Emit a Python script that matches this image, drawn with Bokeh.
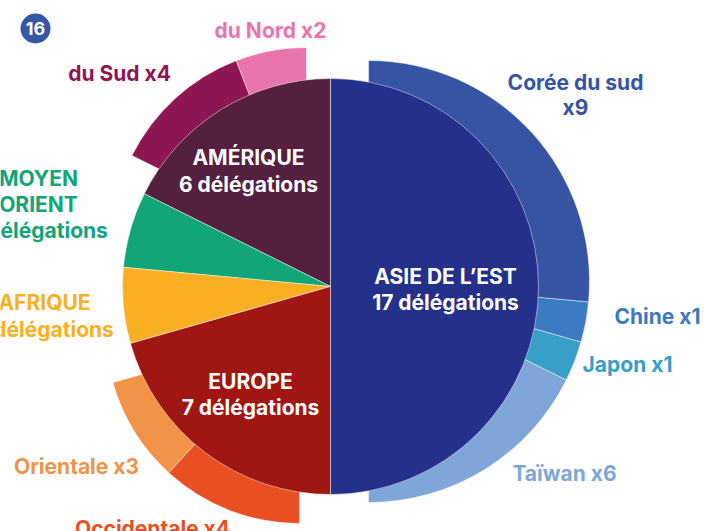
import math
from bokeh.plotting import figure
from bokeh.models import Range1d
from bokeh.core.properties import value
from bokeh.embed import file_html
from bokeh.resources import INLINE

# ---------------- data ----------------
regions = ["AMÉRIQUE", "MOYEN ORIENT", "AFRIQUE", "EUROPE", "ASIE DE L’EST"]
delegations = [6, 2, 2, 7, 17]
region_colors = ["#55203f", "#12a577", "#f8b022", "#a01612", "#24308a"]

america_sub = ["du Nord", "du Sud"]
america_counts = [2, 4]
america_colors = ["#ea74ad", "#8e1652"]

europe_sub = ["Orientale", "Occidentale"]
europe_counts = [3, 4]
europe_colors = ["#f29448", "#e84f22"]

asia_sub = ["Taïwan", "Japon", "Chine", "Corée du sud"]
asia_counts = [6, 1, 1, 9]
asia_colors = ["#7fa6d9", "#36a0c8", "#3b7bc1", "#3554a4"]

# ---------------- layout ----------------
W, H = 704, 531
FONT = value("Inter")
p = figure(width=W, height=H, output_backend="svg", toolbar_location=None,
           x_range=Range1d(0, W), y_range=Range1d(-H, 0),
           min_border=0, outline_line_color=None, background_fill_color="white",
           border_fill_color="white")
p.axis.visible = False
p.grid.visible = False

total = sum(delegations)
unit = 2 * math.pi / total
start0 = math.pi / 2

reg_start = []
acc = 0
for c in delegations:
    reg_start.append(start0 + acc * unit)
    acc += c

pie_cx, pie_cy, pie_r = 330, 286, 208

# outer rings: (region index, sub names, counts, colors, center x, center y, radius)
rings = [
    (0, america_sub, america_counts, america_colors, 306, 242, 195),
    (3, europe_sub, europe_counts, europe_colors, 299, 329, 194),
    (4, asia_sub, asia_counts, asia_colors, 368, 281, 221),
]
for ri, names, counts, cols, cx, cy, rr in rings:
    s = reg_start[ri]
    starts, ends = [], []
    for c in counts:
        starts.append(s)
        s += c * unit
        ends.append(s)
    p.wedge(x=[cx] * len(counts), y=[-cy] * len(counts), radius=rr,
            start_angle=starts, end_angle=ends, fill_color=cols,
            line_color="white", line_width=0.8, line_alpha=0.6)

# main pie
ends = [s + c * unit for s, c in zip(reg_start, delegations)]
p.wedge(x=[pie_cx] * len(delegations), y=[-pie_cy] * len(delegations), radius=pie_r,
        start_angle=reg_start, end_angle=ends, fill_color=region_colors,
        line_color="white", line_width=0.8, line_alpha=0.6)

# ---------------- labels ----------------
def label(x, y, txt, color, size="21px"):
    p.text(x=[x], y=[-y], text=[txt], text_font=FONT, text_font_style="bold",
           text_font_size=size, text_color=color, text_align="center",
           text_baseline="middle")

def deleg(n):
    return f"{n} délégations"

# inside pie
label(248, 157, regions[0], "white")
label(248, 184, deleg(delegations[0]), "white")
label(445, 276, regions[4], "white")
label(445, 302, deleg(delegations[4]), "white")
label(250, 381, regions[3], "white")
label(250, 407, deleg(delegations[3]), "white")

# outside region labels
label(38, 178, "MOYEN", region_colors[1])
label(38, 204, "ORIENT", region_colors[1])
label(38, 230, deleg(delegations[1]), region_colors[1])
label(44, 302, regions[2], region_colors[2])
label(44, 329, deleg(delegations[2]), region_colors[2])

# sub-labels
label(270, 30, f"{america_sub[0]} x{america_counts[0]}", america_colors[0])
label(119, 73, f"{america_sub[1]} x{america_counts[1]}", america_colors[1])
label(575, 82, asia_sub[3], asia_colors[3])
label(575, 107, f"x{asia_counts[3]}", asia_colors[3])
label(657, 316, f"{asia_sub[2]} x{asia_counts[2]}", asia_colors[2])
label(627, 364, f"{asia_sub[1]} x{asia_counts[1]}", asia_colors[1])
label(564, 473, f"{asia_sub[0]} x{asia_counts[0]}", asia_colors[0])
label(76, 466, f"{europe_sub[0]} x{europe_counts[0]}", europe_colors[0])
label(152, 528, f"{europe_sub[1]} x{europe_counts[1]}", europe_colors[1])

# figure number badge
p.scatter(x=[35], y=[-28], size=30, marker="circle", fill_color="#3656a6", line_color=None)
label(35, 28, "16", "white", size="18px")

open("out.html", "w").write(file_html(p, INLINE))
